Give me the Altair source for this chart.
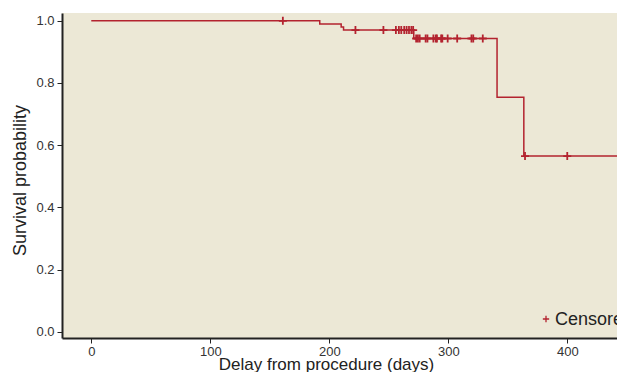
import altair as alt
import pandas as pd

# Kaplan-Meier step curve (time in days, survival probability)
step_times = [0, 192, 210, 212, 271, 341, 363.5, 470]
step_surv = [1.0, 0.990, 0.980, 0.970, 0.943, 0.754, 0.565, 0.565]

# Censored observations (time, survival level)
censor_times = [161,
                222, 245.5, 256, 258.5, 260.5, 263, 265, 267, 269, 270.5,
                273, 274.5, 276, 281, 282.5, 287.5, 289.5, 290.5, 294, 295,
                299.5, 307.5, 319.5, 321, 329,
                364.5, 400]
censor_surv = [1.0] + [0.970] * 10 + [0.943] * 15 + [0.565] * 2

x_ticks = [0, 100, 200, 300, 400]
y_ticks = [0.0, 0.2, 0.4, 0.6, 0.8, 1.0]

steps = pd.DataFrame({"t": step_times, "s": step_surv})
cens = pd.DataFrame({"t": censor_times, "s": censor_surv})

RED = "#b3232f"
PLUS = "M-1,0L1,0M0,-1L0,1"
FONT = "Liberation Sans"

xs = alt.Scale(domain=[-24.6, 441.8], nice=False, zero=False)
ys = alt.Scale(domain=[-0.02, 1.025], nice=False, zero=False)

x_axis = alt.Axis(values=x_ticks, format="d", grid=False, title="Delay from procedure (days)",
                  labelPadding=2,
                  titleX=264, titleY=31, titleAlign="center", titleBaseline="alphabetic",
                  titleFont=FONT, titleFontSize=17, titleFontWeight="normal", titleColor="#222")
y_axis = alt.Axis(values=y_ticks, format=".1f", grid=False, title="Survival probability",
                  titleX=-37, titleY=167, titleAlign="center", titleBaseline="alphabetic",
                  titleAngle=270,
                  titleFont=FONT, titleFontSize=18, titleFontWeight="normal", titleColor="#222")

line = alt.Chart(steps).mark_line(interpolate="step-after", color=RED, strokeWidth=1.5,
                                  clip=True).encode(
    x=alt.X("t:Q", scale=xs, axis=x_axis),
    y=alt.Y("s:Q", scale=ys, axis=y_axis),
)

marks = alt.Chart(cens).mark_point(shape=PLUS, size=64, color=RED, strokeWidth=1.8,
                                   filled=False, opacity=1, clip=True).encode(
    x=alt.X("t:Q", scale=xs),
    y=alt.Y("s:Q", scale=ys),
)

leg_df = pd.DataFrame({"label": ["Censored"]})
leg_mark = alt.Chart(leg_df).mark_point(shape=PLUS, size=40, color=RED, strokeWidth=1.3,
                                        filled=False, opacity=1).encode(
    x=alt.value(484), y=alt.value(306))
leg_text = alt.Chart(leg_df).mark_text(align="left", baseline="alphabetic", font=FONT,
                                       fontSize=18, color="#222").encode(
    x=alt.value(493), y=alt.value(312), text="label:N")

chart = alt.layer(line, marks, leg_mark, leg_text).properties(
    width=555, height=325,
    autosize=alt.AutoSizeParams(type="none"),
    padding={"left": 54, "top": 5, "right": 0, "bottom": 34},
    background="white",
).configure_view(
    fill="#ece8d6", strokeWidth=0
).configure_axis(
    domainColor="#222", domainWidth=2, tickColor="#222", tickWidth=1, tickSize=5,
    labelFont=FONT, labelFontSize=13, labelColor="#333", labelPadding=3,
)

chart.save("out.html", embed_options={"renderer": "svg", "actions": False})
